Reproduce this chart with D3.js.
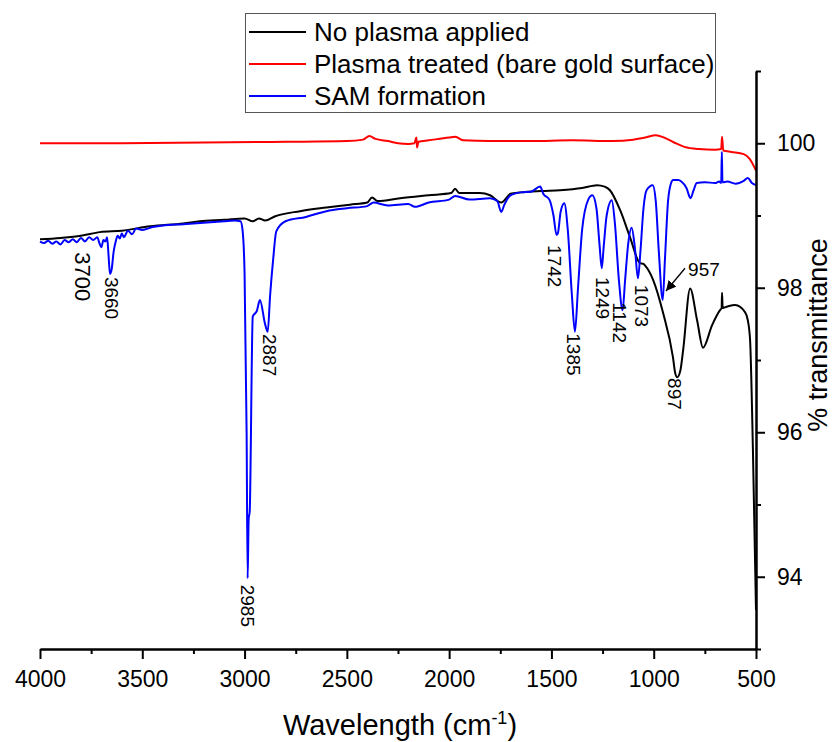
<!DOCTYPE html>
<html>
<head>
<meta charset="utf-8">
<script src="https://cdn.jsdelivr.net/npm/d3@7"></script>
<style>
  body { margin: 0; background: #fff; }
  svg { display: block; font-family: Arial, "Liberation Sans", sans-serif; }
</style>
</head>
<body>
<svg id="chart" width="832" height="742"></svg>
<script>
// spectra (wavenumber in cm-1, % transmittance)
const wnNoPlasma = [4000, 3900, 3800, 3707, 3600, 3462, 3300, 3218, 3100, 3000, 2960, 2930, 2900, 2850, 2729, 2600, 2485, 2400, 2377, 2350, 2240, 2100, 1990, 1971, 1950, 1850, 1800, 1745, 1700, 1653, 1550, 1458, 1350, 1277, 1240, 1214, 1165, 1116, 1067, 1050, 1043, 1003, 954, 906, 895, 885, 870, 856, 822, 788, 759, 715, 676, 668, 666, 663, 640, 602, 553, 540, 529, 515, 500];
const tNoPlasma = [98.67, 98.69, 98.72, 98.77, 98.79, 98.85, 98.89, 98.92, 98.94, 98.96, 98.92, 98.96, 98.93, 98.99, 99.06, 99.11, 99.15, 99.18, 99.25, 99.20, 99.24, 99.28, 99.31, 99.37, 99.31, 99.31, 99.28, 99.18, 99.30, 99.32, 99.34, 99.35, 99.38, 99.42, 99.40, 99.35, 99.08, 98.70, 98.34, 98.33, 98.31, 98.11, 97.65, 97.04, 96.82, 96.76, 96.85, 97.14, 97.99, 97.55, 97.17, 97.48, 97.69, 97.72, 97.93, 97.72, 97.74, 97.76, 97.66, 97.55, 97.28, 95.75, 93.54];

const wnPlasma = [4000, 3600, 3200, 2800, 2500, 2420, 2390, 2360, 2300, 2250, 2200, 2170, 2160, 2157, 2150, 2100, 2000, 1970, 1930, 1800, 1600, 1400, 1200, 1100, 1040, 990, 950, 900, 850, 780, 700, 670, 666, 660, 620, 560, 530, 510, 500];
const tPlasma = [100.00, 100.00, 100.01, 100.02, 100.03, 100.05, 100.10, 100.06, 100.03, 100.00, 99.99, 100.00, 100.08, 99.94, 100.02, 100.04, 100.08, 100.09, 100.04, 100.03, 100.03, 100.04, 100.03, 100.05, 100.08, 100.11, 100.08, 100.01, 99.95, 99.92, 99.91, 99.92, 100.09, 99.90, 99.88, 99.85, 99.78, 99.68, 99.62];

const wnSam = [4000, 3980, 3960, 3940, 3920, 3900, 3880, 3860, 3840, 3820, 3800, 3780, 3760, 3740, 3720, 3710, 3700, 3690, 3680, 3672, 3665, 3658, 3650, 3640, 3630, 3620, 3610, 3600, 3590, 3570, 3550, 3530, 3500, 3450, 3400, 3300, 3200, 3100, 3050, 3020, 3010, 3000, 2990, 2985, 2980, 2975, 2960, 2940, 2925, 2900, 2887, 2875, 2860, 2845, 2800, 2700, 2600, 2500, 2400, 2370, 2300, 2200, 2167, 2100, 2000, 1971, 1900, 1800, 1765, 1745, 1730, 1700, 1650, 1600, 1555, 1540, 1510, 1490, 1475, 1468, 1455, 1437, 1420, 1400, 1385, 1370, 1350, 1320, 1300, 1280, 1265, 1254, 1245, 1230, 1205, 1190, 1170, 1152, 1140, 1125, 1108, 1092, 1077, 1065, 1050, 1035, 1005, 990, 975, 956, 945, 930, 915, 905, 880, 865, 840, 820, 805, 790, 750, 700, 680, 670, 667, 664, 640, 600, 560, 540, 520, 500];
const tSam = [98.64, 98.62, 98.65, 98.61, 98.64, 98.60, 98.66, 98.63, 98.67, 98.63, 98.69, 98.64, 98.70, 98.66, 98.70, 98.62, 98.56, 98.66, 98.64, 98.70, 98.45, 98.19, 98.25, 98.50, 98.64, 98.72, 98.68, 98.75, 98.70, 98.79, 98.74, 98.82, 98.80, 98.84, 98.86, 98.88, 98.90, 98.92, 98.93, 98.92, 98.80, 98.20, 96.00, 93.98, 94.80, 94.90, 97.60, 97.68, 97.83, 97.50, 97.39, 97.90, 98.40, 98.78, 98.92, 98.98, 99.06, 99.10, 99.13, 99.18, 99.14, 99.16, 99.12, 99.18, 99.22, 99.27, 99.22, 99.24, 99.20, 99.05, 99.15, 99.28, 99.32, 99.33, 99.40, 99.30, 99.22, 99.00, 98.73, 98.76, 99.05, 99.17, 98.80, 97.90, 97.39, 98.00, 98.80, 99.22, 99.28, 99.10, 98.60, 98.27, 98.55, 99.00, 99.21, 98.90, 98.10, 97.69, 98.10, 98.60, 98.83, 98.55, 98.13, 98.50, 99.10, 99.35, 99.42, 99.20, 98.50, 97.83, 98.40, 99.20, 99.45, 99.49, 99.49, 99.47, 99.38, 99.24, 99.35, 99.45, 99.46, 99.45, 99.47, 99.45, 99.88, 99.46, 99.47, 99.44, 99.48, 99.52, 99.45, 99.42];

const seriesNames = ["No plasma applied", "Plasma treated (bare gold surface)", "SAM formation"];
const seriesColors = ["#000000", "#ff0000", "#0000ff"];

const xMajorTicks = [4000, 3500, 3000, 2500, 2000, 1500, 1000, 500];
const xMinorTicks = [3750, 3250, 2750, 2250, 1750, 1250, 750];
const yMajorTicks = [94, 96, 98, 100];
const yMinorTicks = [93, 95, 97, 99, 101];

// peak labels: text, wavenumber / transmittance where the text starts
const peakText = ["3700", "3660", "2985", "2887", "1742", "1385", "1249", "1142", "1073", "897"];
const peakWn   = [3829, 3682, 3017, 2910, 1517, 1424, 1282, 1199, 1091, 930];
const peakT    = [98.49, 98.15, 93.89, 97.36, 98.59, 97.37, 98.15, 97.80, 98.04, 96.75];

// the 957 label sits level with an arrow to its band
const arrowWn = [847, 940];
const arrowT = [98.27, 97.955];
const label957 = {text: "957", wn: 832, t: 98.16};

const svg = d3.select("#chart");

const x = d3.scaleLinear().domain([4000, 500]).range([40, 756]);
const y = d3.scaleLinear().domain([93, 101]).range([649, 71]);

const series = [
  {wn: wnNoPlasma, t: tNoPlasma},
  {wn: wnPlasma, t: tPlasma},
  {wn: wnSam, t: tSam}
].map((s, i) => ({
  name: seriesNames[i],
  color: seriesColors[i],
  values: s.wn.map((w, j) => [w, s.t[j]])
}));

let line = d3.line()
    .x(d => x(d[0]))
    .y(d => y(d[1]))
    .curve(d3.curveMonotoneX);

svg.append("g")
  .selectAll("path")
  .data(series)
  .join("path")
    .attr("d", d => line(d.values))
    .attr("fill", "none")
    .attr("stroke", d => d.color)
    .attr("stroke-width", 2)
    .attr("stroke-linejoin", "round");

// x axis, bottom
svg.append("g")
    .attr("transform", "translate(0,649)")
    .call(d3.axisBottom(x).tickValues(xMajorTicks).tickFormat(d3.format("d"))
      .tickSize(10).tickSizeOuter(0).tickPadding(12));
svg.append("g")
    .attr("transform", "translate(0,649)")
    .call(d3.axisBottom(x).tickValues(xMinorTicks).tickSize(5).tickSizeOuter(0).tickFormat(""));

// y axis, right
svg.append("g")
    .attr("transform", "translate(756,0)")
    .call(d3.axisRight(y).tickValues(yMajorTicks).tickFormat(d3.format("d"))
      .tickSize(9).tickSizeOuter(0).tickPadding(12));
svg.append("g")
    .attr("transform", "translate(756,0)")
    .call(d3.axisRight(y).tickValues(yMinorTicks).tickSize(5).tickSizeOuter(0).tickFormat(""));

svg.selectAll(".domain").attr("stroke-width", 2);
svg.selectAll(".tick line").attr("stroke-width", 2);
svg.selectAll(".tick text")
    .attr("font-size", 23)
    .attr("font-family", "Arial, 'Liberation Sans', sans-serif")
    .attr("fill", "#000");

// axis titles
const xTitle = svg.append("text")
    .attr("x", 400)
    .attr("y", 735)
    .attr("text-anchor", "middle")
    .attr("font-size", 29);
xTitle.append("tspan").text("Wavelength (cm");
xTitle.append("tspan").attr("dy", -11).attr("font-size", 18).text("-1");
xTitle.append("tspan").attr("dy", 11).text(")");

svg.append("text")
    .attr("transform", "translate(827,335) rotate(-90)")
    .attr("text-anchor", "middle")
    .attr("font-size", 27)
    .text("% transmittance");

// peak labels
svg.append("g")
  .selectAll("text")
  .data(peakText)
  .join("text")
    .attr("transform", (d, i) => `translate(${x(peakWn[i])},${y(peakT[i])}) rotate(90)`)
    .attr("font-size", (d, i) => i === 0 ? 22 : 19)
    .text(d => d);

// 957 label with arrow
svg.append("defs").append("marker")
    .attr("id", "arrow")
    .attr("viewBox", "0 0 10 10")
    .attr("refX", 10).attr("refY", 5)
    .attr("markerWidth", 10).attr("markerHeight", 10)
    .attr("markerUnits", "userSpaceOnUse")
    .attr("orient", "auto")
  .append("path")
    .attr("d", "M0,0 L10,5 L0,10 z")
    .attr("fill", "#000");
svg.append("line")
    .attr("x1", x(arrowWn[0])).attr("y1", y(arrowT[0]))
    .attr("x2", x(arrowWn[1])).attr("y2", y(arrowT[1]))
    .attr("stroke", "#000")
    .attr("stroke-width", 1.3)
    .attr("marker-end", "url(#arrow)");
svg.append("text")
    .attr("x", x(label957.wn))
    .attr("y", y(label957.t))
    .attr("font-size", 19)
    .text(label957.text);

// legend
const legend = svg.append("g");
legend.append("rect")
    .attr("x", 245.5).attr("y", 13.5)
    .attr("width", 470).attr("height", 99)
    .attr("fill", "#fff")
    .attr("stroke", "#555")
    .attr("stroke-width", 1);
const rows = legend.selectAll("g.row")
  .data(series)
  .join("g")
    .attr("class", "row")
    .attr("transform", (d, i) => `translate(0,${32 + i * 32})`);
rows.append("line")
    .attr("x1", 249).attr("x2", 306)
    .attr("stroke", d => d.color)
    .attr("stroke-width", 2);
rows.append("text")
    .attr("x", 314)
    .attr("y", 9)
    .attr("font-size", 26)
    .text(d => d.name);
</script>
</body>
</html>
